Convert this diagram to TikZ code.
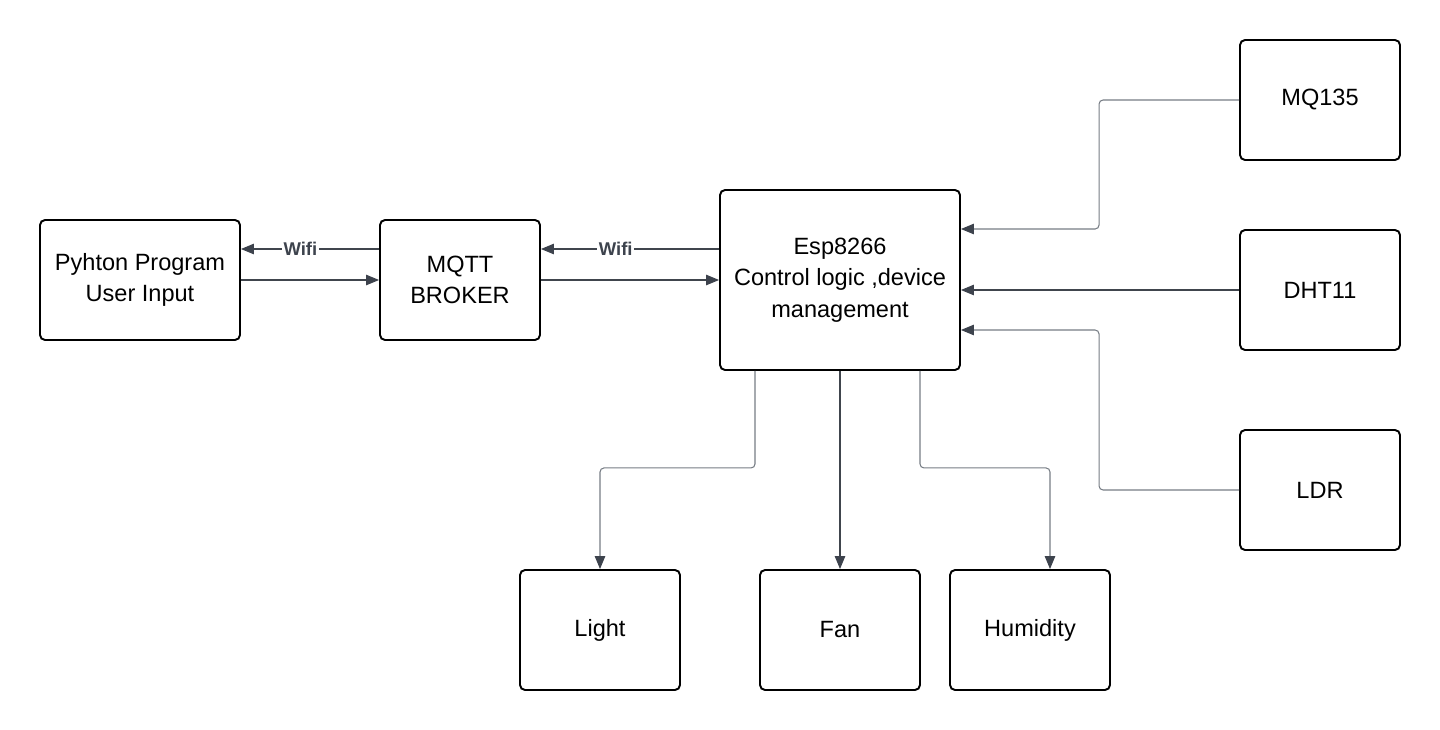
\documentclass[tikz,border=0pt]{standalone}
\usepackage{fontspec}
\setmainfont{Liberation Sans}
\usepackage{xcolor}
\usetikzlibrary{arrows.meta}

\definecolor{linedark}{HTML}{40454D}
\definecolor{linegray}{HTML}{767C84}
\definecolor{tipdark}{HTML}{3D434D}

\begin{document}
\begin{tikzpicture}[x=0.02cm,y=-0.02cm]
    \tikzstyle{B}=[draw=black,line width=1.1pt,rounded corners=0.1cm,align=center,
      font=\fontsize{13.4}{18}\selectfont,minimum width=3.2cm,minimum height=2.4cm,inner sep=0pt]
    \tikzstyle{link}=[draw=linedark,line width=0.6pt,-{Triangle[length=0.26cm,width=0.21cm,color=tipdark]}]
    \tikzstyle{elbow}=[link,draw=linegray,rounded corners=0.08cm]
    \tikzstyle{wifi}=[fill=white,inner sep=1pt,text=tipdark,font=\bfseries\fontsize{10.5}{12}\selectfont]

    \useasboundingbox (0,0) rectangle (1440,730);

    % Boxes
    \node [B,minimum width=4cm] (python) at (140, 280) {Pyhton Program\\User Input};
    \node [B] (mqtt) at (460, 280) {MQTT\\BROKER};
    \node [B,minimum width=4.8cm,minimum height=3.6cm] (esp) at (840, 280) {Esp8266\\Control logic ,device\\management};

    \node [B] (mq)  at (1320, 100) {MQ135};
    \node [B] (dht) at (1320, 290) {DHT11};
    \node [B] (ldr) at (1320, 490) {LDR};

    \node [B] (light) at (600, 630) {Light};
    \node [B] (fan)   at (840, 630) {Fan};
    \node [B] (hum)   at (1030, 630) {Humidity};

    % Wifi links
    \draw [link] ([yshift=0.62cm]mqtt.west) -- node [wifi,pos=0.57] {Wifi} ([yshift=0.62cm]python.east);
    \draw [link] (python.east) -- (mqtt.west);
    \draw [link] ([yshift=0.62cm]esp.west) -- node [wifi,pos=0.58] {Wifi} ([yshift=0.62cm]mqtt.east);
    \draw [link] (mqtt.east) -- (esp.west);

    % Sensors
    \draw [elbow] (mq.west) -- ++(-140,0) |- ([yshift=1.02cm]esp.east);
    \draw [link] (dht.west) -- (esp.east |- dht.west);
    \draw [elbow] (ldr.west) -- ++(-140,0) |- ([yshift=-1cm]esp.east);

    % Outputs
    \draw [elbow] ([xshift=-1.7cm]esp.south) -- ++(0,97) -| (light.north);
    \draw [link] (esp.south) -- (fan.north);
    \draw [elbow] ([xshift=1.6cm]esp.south) -- ++(0,97) -| ([xshift=0.4cm]hum.north);
\end{tikzpicture}
\end{document}
